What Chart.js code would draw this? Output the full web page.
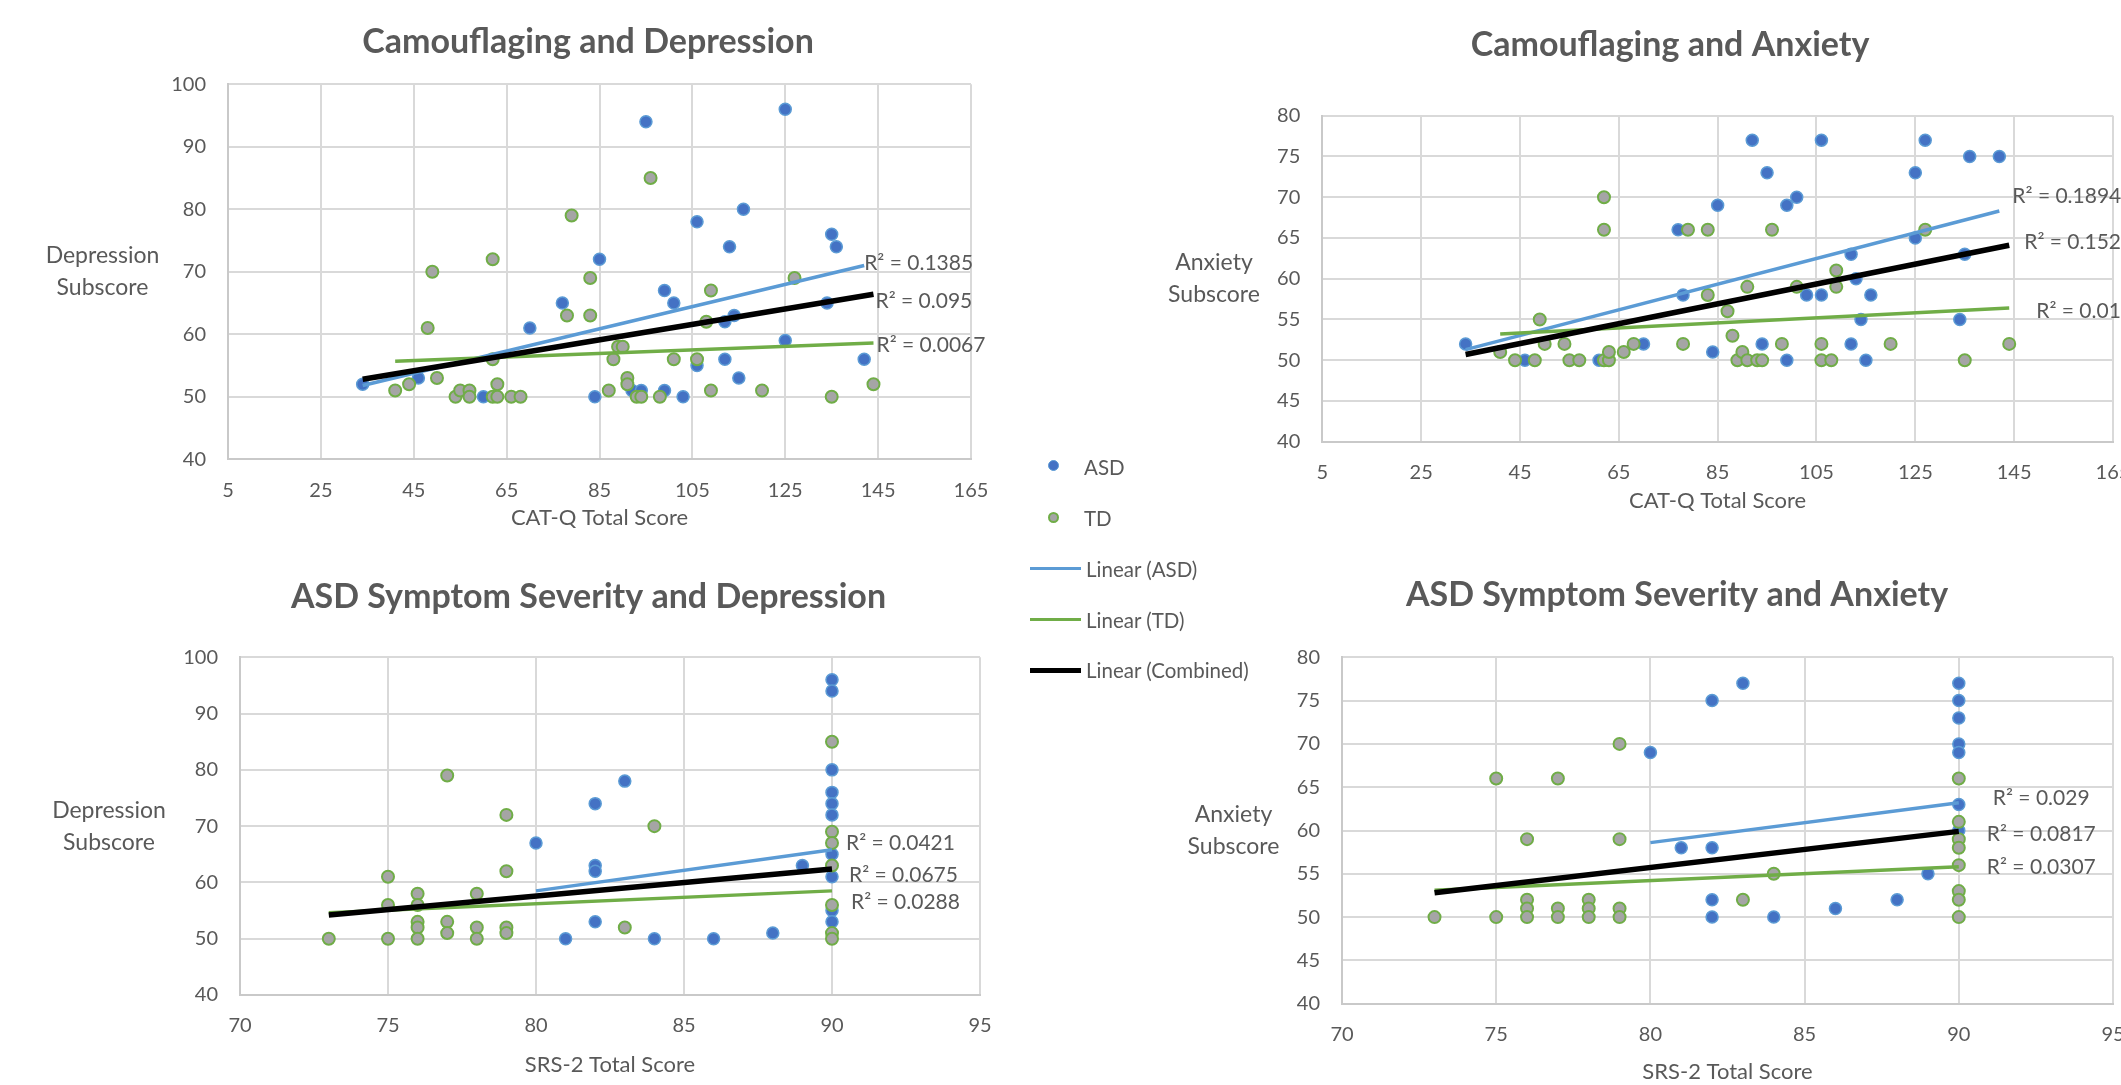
<!DOCTYPE html>
<html>
<head>
<meta charset="utf-8">
<script src="https://cdn.jsdelivr.net/npm/chart.js@4.4.1/dist/chart.umd.min.js"></script>
<style>
  html, body { margin:0; padding:0; background:#fff; }
  body { width:2121px; height:1085px; position:relative; overflow:hidden; font-family: Lato, "Open Sans", sans-serif; color:#595959; }
  canvas { position:absolute; }
  .lg-txt { position:absolute; font-size:20.5px; line-height:24px; white-space:nowrap; }
  .lg-dot { position:absolute; width:11px; height:11px; border-radius:50%; box-sizing:border-box; }
  .lg-line { position:absolute; left:1030px; width:51px; }
</style>
</head>
<body>
<canvas id="c1"></canvas>
<canvas id="c2"></canvas>
<canvas id="c3"></canvas>
<canvas id="c4"></canvas>

<!-- shared legend (sits between the four plots) -->
<div class="lg-dot" style="left:1048px; top:460px; background:#4472C4; border:1.5px solid #5B9BD5"></div>
<div class="lg-txt" style="left:1084px; top:455px">ASD</div>
<div class="lg-dot" style="left:1048px; top:512px; background:#A5A5A5; border:2px solid #70AD47"></div>
<div class="lg-txt" style="left:1084px; top:506px">TD</div>
<div class="lg-line" style="top:567px; height:3px; background:#5B9BD5"></div>
<div class="lg-txt" style="left:1086px; top:557px">Linear (ASD)</div>
<div class="lg-line" style="top:618px; height:3px; background:#70AD47"></div>
<div class="lg-txt" style="left:1086px; top:608px">Linear (TD)</div>
<div class="lg-line" style="top:668px; height:5px; background:#000"></div>
<div class="lg-txt" style="left:1086px; top:658px">Linear (Combined)</div>

<script>
// ---------- DATA ----------

// axis ticks
const catqTicks = [5, 25, 45, 65, 85, 105, 125, 145, 165];
const srsTicks = [70, 75, 80, 85, 90, 95];
const depTicks = [40, 50, 60, 70, 80, 90, 100];
const anxTicks = [40, 45, 50, 55, 60, 65, 70, 75, 80];

// Camouflaging (CAT-Q) and Depression
const catqDepAsd = [[34,52],[46,53],[60,50],[70,61],[77,65],[85,72],[84,50],[92,51],[94,51],[95,94],[99,67],[99,51],
  [101,65],[103,50],[106,78],[106,55],[112,62],[112,56],[113,74],[114,63],[115,53],[116,80],[125,96],[125,59],
  [135,76],[134,65],[136,74],[142,56]];
const catqDepTd = [[41,51],[44,52],[48,61],[49,70],[50,53],[54,50],[55,51],[57,51],[57,50],[62,72],[62,56],[62,50],
  [63,52],[63,50],[66,50],[68,50],[79,79],[78,63],[83,69],[83,63],[87,51],[88,56],[89,58],[90,58],[91,53],[91,52],
  [93,50],[94,50],[96,85],[98,50],[101,56],[106,56],[108,62],[109,67],[109,51],[120,51],[127,69],[135,50],[144,52]];
const catqDepFitAsd = [[34,51.8],[142,71]];
const catqDepFitTd = [[41,55.7],[144,58.6]];
const catqDepFitAll = [[34,52.8],[144,66.4]];
const catqDepR2 = ['R² = 0.1385', 'R² = 0.0067', 'R² = 0.095'];

// Camouflaging (CAT-Q) and Anxiety
const catqAnxAsd = [[34,52],[46,50],[61,50],[70,52],[77,66],[78,58],[84,51],[85,69],[92,77],[94,52],[95,73],[99,69],
  [99,50],[101,70],[103,58],[106,77],[106,58],[112,63],[112,52],[113,60],[114,55],[115,50],[116,58],[125,65],
  [125,73],[127,77],[134,55],[135,63],[136,75],[142,75]];
const catqAnxTd = [[41,51],[44,50],[48,50],[49,55],[50,52],[54,52],[55,50],[57,50],[62,70],[62,66],[62,50],[63,50],
  [63,51],[66,51],[68,52],[78,52],[79,66],[83,66],[83,58],[87,56],[88,53],[89,50],[90,51],[91,59],[91,50],[93,50],
  [94,50],[96,66],[98,52],[101,59],[106,52],[106,50],[108,50],[109,61],[109,59],[120,52],[127,66],[135,50],[144,52]];
const catqAnxFitAsd = [[34,51.3],[142,68.3]];
const catqAnxFitTd = [[41,53.2],[144,56.4]];
const catqAnxFitAll = [[34,50.7],[144,64.1]];
const catqAnxR2 = ['R² = 0.1894', 'R² = 0.01', 'R² = 0.152'];

// ASD symptom severity (SRS-2) and Depression
const srsDepAsd = [[80,67],[81,50],[82,74],[82,63],[82,62],[82,53],[83,78],[84,50],[86,50],[88,51],[89,63],
  [90,96],[90,94],[90,80],[90,76],[90,74],[90,72],[90,65],[90,61],[90,55],[90,53]];
const srsDepTd = [[73,50],[75,61],[75,56],[75,50],[76,58],[76,56],[76,53],[76,52],[76,50],[77,79],[77,53],[77,51],
  [78,58],[78,52],[78,50],[79,72],[79,62],[79,52],[79,51],[83,52],[84,70],[90,85],[90,69],[90,67],[90,63],
  [90,56],[90,51],[90,50]];
const srsDepFitAsd = [[80,58.5],[90,65.8]];
const srsDepFitTd = [[73,54.6],[90,58.5]];
const srsDepFitAll = [[73,54.2],[90,62.4]];
const srsDepR2 = ['R² = 0.0421', 'R² = 0.0288', 'R² = 0.0675'];

// ASD symptom severity (SRS-2) and Anxiety
const srsAnxAsd = [[80,69],[81,58],[82,75],[82,58],[82,52],[82,50],[83,77],[84,50],[86,51],[88,52],[89,55],
  [90,77],[90,75],[90,73],[90,70],[90,69],[90,63],[90,60]];
const srsAnxTd = [[73,50],[75,66],[75,50],[76,59],[76,52],[76,51],[76,50],[77,66],[77,51],[77,50],[78,52],[78,51],
  [78,50],[79,70],[79,59],[79,51],[79,50],[83,52],[84,55],[90,66],[90,61],[90,59],[90,58],[90,56],[90,53],
  [90,52],[90,50]];
const srsAnxFitAsd = [[80,58.6],[90,63.2]];
const srsAnxFitTd = [[73,53.1],[90,55.8]];
const srsAnxFitAll = [[73,52.8],[90,59.9]];
const srsAnxR2 = ['R² = 0.029', 'R² = 0.0307', 'R² = 0.0817'];

// ---------- LAYOUT (page pixels) ----------
// box = canvas [x0,y0,x1,y1], plot = plot area [left,top,right,bottom]
// r2 = offsets of R² labels from the end of the ASD / TD / Combined lines
const layouts = {
  c1: { box:[0,0,1040,560], plot:[228,84.3,971,459.3], titleX:588, titleY:41.7, xTitleY:518, yTitleX:102.5,
        r2:[[0,-2],[3,2],[2,7]] },
  c2: { box:[1100,0,2121,560], plot:[1322.3,115.7,2114.5,441.7], titleX:1670, titleY:45, xTitleY:501, yTitleX:1214,
        r2:[[13,-15],[27,3],[15,-3]] },
  c3: { box:[0,560,1030,1085], plot:[240,657.3,980,995], titleX:588.5, titleY:596.7, xTitleY:1065, yTitleX:109,
        r2:[[14,-7],[19,11],[17,6]] },
  c4: { box:[1100,560,2121,1085], plot:[1342,657.3,2115,1003.7], titleX:1677, titleY:595, xTitleY:1072, yTitleX:1233.5,
        r2:[[34,-5],[28,0],[28,3]] }
};

const TEXT = '#595959';
const GRID = '#D9D9D9';
const FONT = 'Lato, "Open Sans", sans-serif';
const TITLE_SIZE = 34;
Chart.defaults.font.family = FONT;
Chart.defaults.color = TEXT;

const toXY = pts => pts.map(([x, y]) => ({ x, y }));

// y title is horizontal in two lines, and R² labels sit at the end of each trend line
function extrasPlugin(yTitle, yOffset, r2Texts, r2Offsets) {
  return {
    id: 'extras',
    afterDraw(chart) {
      const ctx = chart.ctx, area = chart.chartArea;
      ctx.save();
      ctx.fillStyle = TEXT;
      ctx.textBaseline = 'middle';
      ctx.font = '23px ' + FONT;
      ctx.textAlign = 'center';
      const mid = (area.top + area.bottom) / 2;
      yTitle.forEach((line, i) => {
        ctx.fillText(line, area.left + yOffset, mid + (i - (yTitle.length - 1) / 2) * 32);
      });
      ctx.font = '21px ' + FONT;
      ctx.textAlign = 'left';
      r2Texts.forEach((txt, i) => {
        const pts = chart.getDatasetMeta(2 + i).data;
        const end = pts[pts.length - 1];
        ctx.fillText(txt, end.x + r2Offsets[i][0], end.y + r2Offsets[i][1]);
      });
      ctx.restore();
    }
  };
}

function axis(ticks, extra) {
  return Object.assign({
    type: 'linear',
    min: ticks[0],
    max: ticks[ticks.length - 1],
    ticks: { stepSize: ticks[1] - ticks[0], color: TEXT, font: { size: 20 }, maxRotation: 0, autoSkip: false },
    grid: { color: GRID, lineWidth: 2, drawTicks: false },
    border: { color: '#C9C9C9', width: 2 }
  }, extra);
}

function buildChart(id, d) {
  const lay = layouts[id];
  const [x0, y0, x1, y1] = lay.box;
  const [L, T, R, B] = lay.plot;
  const cv = document.getElementById(id);
  cv.width = x1 - x0; cv.height = y1 - y0;
  cv.style.left = x0 + 'px'; cv.style.top = y0 + 'px';

  // the title is centred on the whole chart object, not on the plot:
  // pick the left edge, and pad the right with an empty axis so the centre lands right
  const boxLeft = Math.min(L - 80, 2 * lay.titleX - R);
  const boxRight = 2 * lay.titleX - boxLeft;
  const yW = L - boxLeft, y2W = boxRight - R, xH = y1 - B;
  const titleLH = TITLE_SIZE * 1.2, axisLH = 22 * 1.2;

  const xAxis = axis(d.xTicks, {
    title: { display: true, text: d.xTitle, color: TEXT, font: { size: 22, lineHeight: 1.2 },
             padding: { top: 0, bottom: Math.max(0, y1 - lay.xTitleY - axisLH / 2) } },
    afterFit(s) { s.height = xH; s.paddingLeft = 0; s.paddingRight = 0; }
  });
  xAxis.ticks.padding = 19;
  const yAxis = axis(d.yTicks, {
    afterFit(s) { s.width = yW; s.paddingTop = 0; s.paddingBottom = 0; }
  });
  yAxis.ticks.padding = 22;
  const spacer = {
    position: 'right', display: true,
    ticks: { display: false }, grid: { display: false, drawTicks: false }, border: { display: false },
    afterFit(s) { s.width = y2W; s.paddingTop = 0; s.paddingBottom = 0; }
  };

  new Chart(cv, {
    type: 'scatter',
    data: {
      datasets: [
        { label: 'ASD', data: toXY(d.asd), pointRadius: 6, pointBackgroundColor: '#4472C4',
          pointBorderColor: '#5B9BD5', pointBorderWidth: 1.5, order: 5 },
        { label: 'TD', data: toXY(d.td), pointRadius: 6, pointBackgroundColor: '#A5A5A5',
          pointBorderColor: '#70AD47', pointBorderWidth: 2, order: 4 },
        { label: 'Linear (ASD)', data: toXY(d.fitAsd), showLine: true, pointRadius: 0,
          borderColor: '#5B9BD5', borderWidth: 3.5, order: 3 },
        { label: 'Linear (TD)', data: toXY(d.fitTd), showLine: true, pointRadius: 0,
          borderColor: '#70AD47', borderWidth: 3.5, order: 2 },
        { label: 'Linear (Combined)', data: toXY(d.fitAll), showLine: true, pointRadius: 0,
          borderColor: '#000000', borderWidth: 5.5, order: 1 }
      ]
    },
    options: {
      responsive: false,
      animation: false,
      devicePixelRatio: 1,
      events: [],
      layout: { padding: { left: boxLeft - x0, right: x1 - boxRight, top: 0, bottom: 0 } },
      plugins: {
        legend: { display: false },
        tooltip: { enabled: false },
        title: {
          display: true, text: d.title, color: TEXT,
          font: { size: TITLE_SIZE, weight: 'bold', lineHeight: 1.2 },
          padding: { top: lay.titleY - y0 - titleLH / 2, bottom: T - lay.titleY - titleLH / 2 }
        }
      },
      scales: { x: xAxis, y: yAxis, spacer: spacer }
    },
    plugins: [extrasPlugin(d.yTitle, lay.yTitleX - L, d.r2, lay.r2)]
  });
}

buildChart('c1', { title: 'Camouflaging and Depression', xTitle: 'CAT-Q Total Score', yTitle: ['Depression', 'Subscore'],
  xTicks: catqTicks, yTicks: depTicks, asd: catqDepAsd, td: catqDepTd,
  fitAsd: catqDepFitAsd, fitTd: catqDepFitTd, fitAll: catqDepFitAll, r2: catqDepR2 });

buildChart('c2', { title: 'Camouflaging and Anxiety', xTitle: 'CAT-Q Total Score', yTitle: ['Anxiety', 'Subscore'],
  xTicks: catqTicks, yTicks: anxTicks, asd: catqAnxAsd, td: catqAnxTd,
  fitAsd: catqAnxFitAsd, fitTd: catqAnxFitTd, fitAll: catqAnxFitAll, r2: catqAnxR2 });

buildChart('c3', { title: 'ASD Symptom Severity and Depression', xTitle: 'SRS-2 Total Score', yTitle: ['Depression', 'Subscore'],
  xTicks: srsTicks, yTicks: depTicks, asd: srsDepAsd, td: srsDepTd,
  fitAsd: srsDepFitAsd, fitTd: srsDepFitTd, fitAll: srsDepFitAll, r2: srsDepR2 });

buildChart('c4', { title: 'ASD Symptom Severity and Anxiety', xTitle: 'SRS-2 Total Score', yTitle: ['Anxiety', 'Subscore'],
  xTicks: srsTicks, yTicks: anxTicks, asd: srsAnxAsd, td: srsAnxTd,
  fitAsd: srsAnxFitAsd, fitTd: srsAnxFitTd, fitAll: srsAnxFitAll, r2: srsAnxR2 });
</script>
</body>
</html>
